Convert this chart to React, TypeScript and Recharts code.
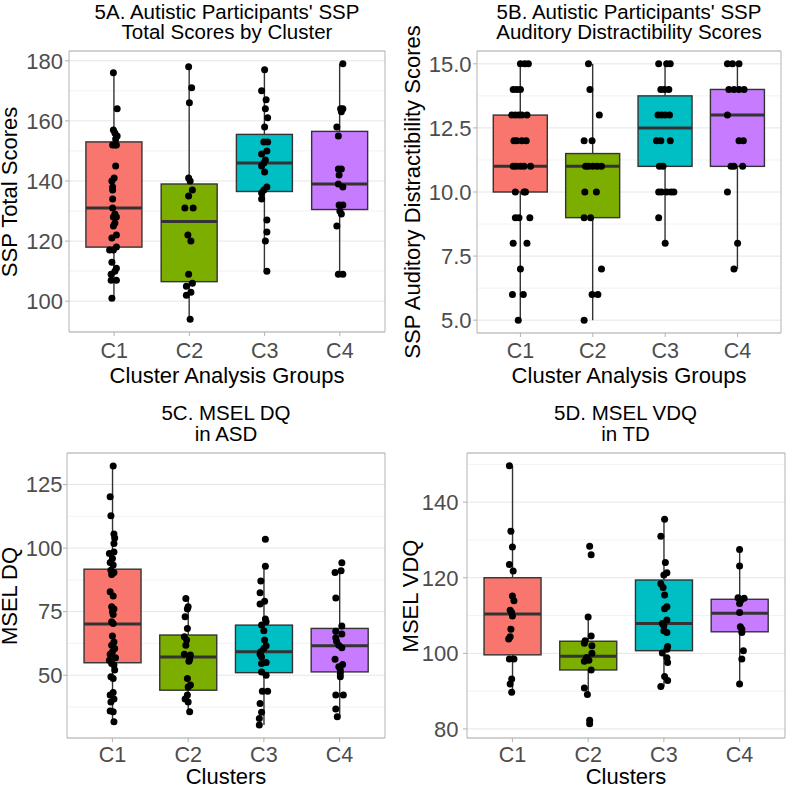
import React from 'react';
import { ComposedChart, Bar, Scatter, XAxis, YAxis, CartesianGrid, ReferenceArea } from 'recharts';

const FONT = '"Liberation Sans", Arial, Helvetica, sans-serif';
const clusters = ['C1', 'C2', 'C3', 'C4'];
const fills = ['#F8766D', '#7CAE00', '#00BFC4', '#C77CFF'];

// ---------- 5A: SSP Total Scores ----------
const sspTotalValues = [
  [176, 164, 157, 156, 155, 154, 152, 152, 152, 145, 141, 140, 138, 137, 134, 131, 129, 128, 128, 126, 125, 122, 121, 118, 117, 117, 113, 111, 110, 109, 107, 107, 101],
  [178, 171, 166, 141, 140, 137, 135, 131, 131, 122, 120, 109, 106, 105, 103, 102, 94],
  [177, 170, 167, 164, 161, 158, 153, 153, 150, 149, 147, 146, 145, 143, 138, 137, 136, 134, 127, 123, 120, 110],
  [179, 164, 164, 163, 158, 155, 144, 144, 142, 139, 138, 132, 132, 130, 129, 125, 109, 109],
];
const sspTotalJitter = [
  [-0.01, 0.04, -0.01, 0.01, 0.04, 0.02, -0.02, 0.01, 0.03, 0.02, 0, -0.03, -0.02, -0.02, -0.02, -0.02, 0.01, 0.03, -0.01, 0.01, -0.01, 0.03, -0.03, 0.03, -0.06, -0.01, -0.03, 0.03, 0.01, -0.04, -0.04, 0.03, -0.03],
  [-0.01, 0.03, 0, -0.01, 0.01, 0.04, -0.01, -0.06, 0.05, -0.02, 0.02, -0.01, 0.04, -0.04, 0.02, -0.04, 0.01],
  [0, -0.04, 0.02, 0.01, 0.04, 0, -0.01, 0.04, 0.03, -0.04, 0.01, -0.01, -0.04, 0, 0.03, -0.01, -0.04, -0.04, 0.03, 0.03, 0.01, 0.03],
  [0.04, 0.01, 0.04, 0.02, -0.04, -0.02, -0.02, 0.02, -0.01, -0.02, 0.04, -0.01, 0.04, 0, 0.02, -0.04, -0.02, 0.04],
];
// [lower whisker, Q1, median, Q3, upper whisker]
const sspTotalBoxes = [
  [101, 118, 131, 153, 176],
  [94, 106.5, 126.5, 139, 178],
  [110, 136.5, 146, 155.5, 177],
  [109, 130.5, 139, 156.5, 179],
];
const sspTotalTicks = [100, 120, 140, 160, 180];
const sspTotalMinor = [90, 110, 130, 150, 170];
const sspTotalDomain = [89.75, 183.25];

// ---------- 5B: SSP Auditory Distractibility ----------
const sspAudValues = [
  [15, 15, 15, 14, 14, 14, 13, 13, 13, 13, 13, 12, 12, 12, 12, 11, 11, 11, 11, 11, 10, 10, 10, 9, 9, 9, 8, 8, 7, 6, 6, 5],
  [15, 14, 13, 12, 12, 11, 11, 11, 11, 11, 10, 10, 9, 9, 7, 6, 6, 5],
  [15, 15, 15, 14, 14, 14, 13, 13, 13, 13, 12, 12, 12, 11, 11, 10, 10, 10, 10, 10, 9, 8],
  [15, 15, 15, 14, 14, 14, 14, 13, 12, 12, 11, 11, 11, 10, 8, 7],
];
const sspAudJitter = [
  [0, 0.06, 0.11, -0.1, -0.05, 0, -0.12, -0.07, -0.02, 0.02, 0.09, -0.09, -0.05, 0.02, 0.08, -0.1, -0.06, 0, 0.05, 0.14, -0.07, 0.05, 0.07, -0.07, -0.02, 0.13, -0.1, 0.09, 0, -0.11, 0.04, -0.03],
  [-0.06, -0.04, 0.09, -0.12, -0.01, -0.1, -0.06, 0, 0.06, 0.12, -0.11, 0.05, -0.12, -0.03, 0.12, -0.01, 0.07, -0.12],
  [-0.09, 0.02, 0.07, -0.06, -0.01, 0.05, -0.1, -0.05, 0, 0.06, -0.12, -0.06, 0.07, -0.08, -0.03, -0.09, -0.05, 0.02, 0.08, 0.12, -0.09, 0],
  [-0.14, -0.07, 0.02, -0.12, -0.05, 0.02, 0.09, -0.14, 0.02, 0.08, -0.09, -0.05, 0.07, -0.14, 0, -0.05],
];
const sspAudBoxes = [
  [5, 10, 11, 13, 15],
  [5, 9, 11, 11.5, 15],
  [8, 11, 12.5, 13.75, 15],
  [7, 11, 13, 14, 15],
];
const sspAudTicks = [5, 7.5, 10, 12.5, 15];
const sspAudMinor = [6.25, 8.75, 11.25, 13.75];
const sspAudDomain = [4.5, 15.5];

// ---------- 5C: MSEL DQ in ASD ----------
const dqValues = [
  [132.3, 120.2, 112.7, 105.5, 104, 101.8, 98.5, 97.9, 95.9, 94.3, 93.3, 91.3, 90.4, 89.6, 82.8, 81.2, 76.9, 76, 75, 73.9, 71, 70.3, 65.4, 63.1, 61.8, 60.5, 59.2, 58.2, 56.9, 55.9, 54.6, 54, 52, 49.4, 48.7, 43.2, 42.2, 40.6, 39.5, 35.9, 35.6, 31.7],
  [80.2, 76.9, 76, 73, 68.4, 65.1, 63.8, 61.8, 58.2, 57.9, 56.3, 55.5, 48.7, 46.1, 45.4, 42.2, 40.6, 39.5, 35.6],
  [103.5, 92.9, 87.1, 82.4, 79.1, 78, 72.1, 71, 69.7, 67.5, 63.8, 61.6, 60.5, 59.2, 58.2, 57.2, 55, 54.6, 51.3, 50, 43.7, 43.7, 38.9, 35.4, 33, 30.4],
  [94.2, 91.1, 90.4, 80.4, 69.4, 67.3, 66.2, 64.7, 63.4, 61.8, 60.8, 56.3, 54.2, 53.3, 52, 50.7, 49.4, 42.2, 42.2, 36.7, 33.7],
];
const dqJitter = [
  [0.01, -0.03, -0.02, 0.02, 0.03, 0.02, 0.02, -0.04, 0, -0.03, 0.01, -0.02, 0.02, -0.01, -0.03, 0.01, -0.01, 0.02, 0, 0.01, -0.01, 0.01, 0, 0.02, -0.01, 0.03, 0, -0.03, 0.04, -0.04, -0.01, 0.02, 0.03, -0.02, 0.01, 0.01, -0.03, 0.02, -0.02, -0.03, 0.01, 0.02],
  [-0.03, 0, -0.01, -0.04, -0.01, -0.05, -0.02, -0.03, -0.05, 0.03, 0.02, 0.01, -0.01, 0.03, 0, -0.01, -0.04, 0, 0.02],
  [0.02, 0.02, -0.04, -0.05, 0.01, -0.05, 0.02, 0.03, -0.03, 0, 0.01, 0.03, 0, -0.04, -0.05, -0.03, 0.03, -0.03, -0.03, 0.03, -0.02, 0.05, -0.05, -0.03, -0.06, -0.06],
  [0.03, 0.02, -0.06, -0.05, 0.03, -0.05, 0.03, -0.05, -0.04, -0.01, 0.03, -0.06, 0.04, -0.01, 0.01, 0.01, 0.01, -0.05, 0.05, -0.05, -0.03],
];
const dqBoxes = [
  [31.7, 54.9, 70.1, 91.7, 132.3],
  [35.6, 44.1, 57.2, 65.8, 80.2],
  [30.4, 51, 59.2, 69.7, 92.9],
  [33.7, 51.3, 61.6, 68.4, 90.4],
];
const dqTicks = [50, 75, 100, 125];
const dqMinor = [37.5, 62.5, 87.5, 112.5];
const dqDomain = [25.3, 137.4];

// ---------- 5D: MSEL VDQ in TD ----------
const vdqValues = [
  [149.6, 132.3, 128.1, 123.5, 121.8, 115.2, 113.9, 111.4, 110.8, 109.9, 106.4, 104.4, 103.8, 98.5, 98.5, 93.2, 91.9, 89.7],
  [128.3, 126.1, 109.6, 104.6, 103.3, 102.7, 102, 100, 98.9, 98.2, 97.9, 95.6, 90.8, 89.1, 82.3, 81.4],
  [135.5, 131, 124, 121.3, 120.7, 118.4, 117.4, 115.4, 112.3, 111.8, 108.8, 107.9, 107.3, 106, 105.5, 101.8, 101.1, 100.1, 98.8, 97.6, 93.9, 92.8, 91.2],
  [127.5, 123.1, 114.7, 114.6, 114.1, 113.2, 110.8, 107, 106.4, 105.5, 100.7, 98.5, 91.9],
];
const vdqJitter = [
  [-0.04, -0.02, 0, -0.04, 0.01, 0, 0.02, -0.03, -0.01, 0, -0.02, -0.03, -0.05, -0.04, 0.02, -0.01, -0.03, -0.01],
  [0.02, 0.04, 0, 0.04, -0.04, -0.05, 0.05, 0.05, -0.02, 0.01, -0.05, 0.04, -0.05, -0.01, 0.02, 0.02],
  [0.01, -0.04, 0.02, 0.04, 0, -0.04, -0.01, 0.01, 0.04, 0.01, 0.04, -0.02, 0, 0, 0.04, 0.05, 0.04, -0.02, 0.04, 0.05, 0.01, 0.05, -0.04],
  [0, 0, -0.02, 0.06, 0.02, 0, 0, 0.01, 0.03, 0.03, 0.05, 0.03, 0],
];
const vdqBoxes = [
  [89.7, 99.6, 110.4, 120, 149.6],
  [89.1, 95.6, 99.2, 103.2, 109.6],
  [91.2, 100.7, 107.9, 119.4, 135.5],
  [91.9, 105.7, 110.6, 114.3, 127.5],
];
const vdqTicks = [80, 100, 120, 140];
const vdqMinor = [90, 110, 130, 150];
const vdqDomain = [77.6, 153];

const panels = [
  {
    id: 'A', left: 0, top: 0, width: 393, height: 393,
    margin: { top: 51, right: 8, bottom: 31, left: 0 }, yWidth: 69,
    yTickMargin: 2, xTickMargin: 6.4,
    values: sspTotalValues, jitter: sspTotalJitter, boxes: sspTotalBoxes,
    ticks: sspTotalTicks, minor: sspTotalMinor, domain: sspTotalDomain,
    fmt: (v: number) => String(v),
    title: ["5A. Autistic Participants' SSP", 'Total Scores by Cluster'], titleTop: 1.5, titleX: 227,
    yTitle: 'SSP Total Scores', yTitleX: 9.5, yTitleY: 191.5,
    xTitle: 'Cluster Analysis Groups', xTitleY: 376,
  },
  {
    id: 'B', left: 393, top: 0, width: 394, height: 393,
    margin: { top: 51, right: 6, bottom: 30, left: 0 }, yWidth: 84,
    yTickMargin: 1.5, xTickMargin: 5.4,
    values: sspAudValues, jitter: sspAudJitter, boxes: sspAudBoxes,
    ticks: sspAudTicks, minor: sspAudMinor, domain: sspAudDomain,
    fmt: (v: number) => v.toFixed(1),
    title: ["5B. Autistic Participants' SSP", 'Auditory Distractibility Scores'], titleTop: 1.5, titleX: 629,
    yTitle: 'SSP Auditory Distractibility Scores', yTitleX: 413, yTitleY: 192,
    xTitle: 'Cluster Analysis Groups', xTitleY: 376,
  },
  {
    id: 'C', left: 0, top: 393, width: 393, height: 393,
    margin: { top: 60, right: 8, bottom: 18, left: 0 }, yWidth: 67,
    yTickMargin: 0.5, xTickMargin: 4.4,
    values: dqValues, jitter: dqJitter, boxes: dqBoxes,
    ticks: dqTicks, minor: dqMinor, domain: dqDomain,
    fmt: (v: number) => String(v),
    title: ['5C. MSEL DQ', 'in ASD'], titleTop: 403, titleX: 226,
    yTitle: 'MSEL DQ', yTitleX: 10, yTitleY: 595.5,
    xTitle: 'Clusters', xTitleY: 777,
  },
  {
    id: 'D', left: 393, top: 393, width: 394, height: 393,
    margin: { top: 60, right: 2, bottom: 18, left: 0 }, yWidth: 74,
    yTickMargin: 4.5, xTickMargin: 4.4,
    values: vdqValues, jitter: vdqJitter, boxes: vdqBoxes,
    ticks: vdqTicks, minor: vdqMinor, domain: vdqDomain,
    fmt: (v: number) => String(v),
    title: ['5D. MSEL VDQ', 'in TD'], titleTop: 403, titleX: 625.5,
    yTitle: 'MSEL VDQ', yTitleX: 410.5, yTitleY: 595.5,
    xTitle: 'Clusters', xTitleY: 777,
  },
];

const BoxShape = (props: any) => {
  const { x, y, width, height, payload } = props;
  if (!payload || x == null || y == null) return null;
  const [q1, q3] = payload.box;
  const top = Math.min(y, y + height);
  const bottom = Math.max(y, y + height);
  const px = (v: number) => bottom + ((top - bottom) * (v - q1)) / (q3 - q1);
  const cx = x + width / 2;
  const stroke = '#333333';
  return (
    <g>
      <line x1={cx} x2={cx} y1={px(payload.hi)} y2={top} stroke={stroke} strokeWidth={1.4} />
      <line x1={cx} x2={cx} y1={bottom} y2={px(payload.lo)} stroke={stroke} strokeWidth={1.4} />
      <rect x={x} y={top} width={width} height={bottom - top} fill={payload.color} stroke={stroke} strokeWidth={1.4} />
      <line x1={x} x2={x + width} y1={px(payload.med)} y2={px(payload.med)} stroke={stroke} strokeWidth={3} />
    </g>
  );
};

const DotShape = (props: any) => {
  if (props.cx == null || props.cy == null) return null;
  return <circle cx={props.cx} cy={props.cy} r={3.5} fill="#000000" />;
};

function Panel({ cfg }: { cfg: any }) {
  const plotW = cfg.width - cfg.yWidth - cfg.margin.right - cfg.margin.left;
  const pad = plotW / 42;
  const boxData = clusters.map((name, i) => ({
    name,
    box: [cfg.boxes[i][1], cfg.boxes[i][3]],
    lo: cfg.boxes[i][0],
    med: cfg.boxes[i][2],
    hi: cfg.boxes[i][4],
    color: fills[i],
  }));
  const points = cfg.values.flatMap((vals: number[], i: number) =>
    vals.map((v: number, j: number) => ({ x: i + 1 + (cfg.jitter[i][j] ?? 0), y: v }))
  );
  const xTickStyle = { fill: '#4D4D4D', fontSize: 21.5, fontFamily: FONT };
  const yTickStyle = { fill: '#4D4D4D', fontSize: 22, fontFamily: FONT };
  return (
    <div style={{ position: 'absolute', left: cfg.left, top: cfg.top, width: cfg.width, height: cfg.height }}>
      <ComposedChart width={cfg.width} height={cfg.height} data={boxData} margin={cfg.margin} barCategoryGap="12.5%">
        <XAxis xAxisId="num" type="number" dataKey="x" domain={[0.4, 4.6]} allowDataOverflow hide />
        <XAxis
          xAxisId="cat" type="category" dataKey="name" padding={{ left: pad, right: pad }} height={30}
          tickSize={4} tickMargin={cfg.xTickMargin} tick={xTickStyle} tickLine={{ stroke: '#B3B3B3' }}
          axisLine={false} interval={0}
        />
        <YAxis
          yAxisId="main" type="number" domain={cfg.domain} ticks={cfg.ticks} allowDataOverflow width={cfg.yWidth}
          tickSize={4} tickMargin={cfg.yTickMargin} tick={yTickStyle} tickLine={{ stroke: '#B3B3B3' }}
          axisLine={false} interval={0} tickFormatter={cfg.fmt}
        />
        <YAxis yAxisId="minor" type="number" domain={cfg.domain} ticks={cfg.minor} allowDataOverflow hide interval={0} />
        <CartesianGrid xAxisId="cat" yAxisId="minor" vertical={false} stroke="#F2F2F2" strokeWidth={1} />
        <CartesianGrid xAxisId="cat" yAxisId="main" vertical={false} stroke="#E6E6E6" strokeWidth={1} />
        <Bar xAxisId="cat" yAxisId="main" dataKey="box" shape={BoxShape} isAnimationActive={false} />
        <Scatter xAxisId="num" yAxisId="main" data={points} dataKey="y" shape={DotShape} isAnimationActive={false} />
        <ReferenceArea
          xAxisId="num" yAxisId="main" x1={0.4} x2={4.6} y1={cfg.domain[0]} y2={cfg.domain[1]}
          fill="none" fillOpacity={0} stroke="#B3B3B3" strokeWidth={1} ifOverflow="visible"
        />
      </ComposedChart>
    </div>
  );
}

function Texts({ cfg }: { cfg: any }) {
  const plotLeft = cfg.left + cfg.yWidth;
  const plotRight = cfg.left + cfg.width - cfg.margin.right;
  const cx = (plotLeft + plotRight) / 2;
  return (
    <>
      {cfg.title.map((l: string, k: number) => (
        <div
          key={l}
          style={{
            position: 'absolute', left: cfg.titleX - 200, top: cfg.titleTop + 2 + k * 20.5, width: 400, textAlign: 'center',
            fontSize: 20.5, lineHeight: '16.5px', color: '#000', whiteSpace: 'nowrap',
          }}
        >
          {l}
        </div>
      ))}
      <div
        style={{
          position: 'absolute', left: cfg.yTitleX, top: cfg.yTitleY, transform: 'translate(-50%, -50%) rotate(-90deg)',
          fontSize: 22, lineHeight: '16px', color: '#000', whiteSpace: 'nowrap',
        }}
      >
        {cfg.yTitle}
      </div>
      <div
        style={{
          position: 'absolute', left: cx, top: cfg.xTitleY, transform: 'translate(-50%, -50%)',
          fontSize: 22, lineHeight: '16px', color: '#000', whiteSpace: 'nowrap',
        }}
      >
        {cfg.xTitle}
      </div>
    </>
  );
}

export default function App() {
  return (
    <div style={{ position: 'absolute', left: 0, top: 0, width: 787, height: 786, background: '#ffffff', fontFamily: FONT, overflow: 'hidden' }}>
      {panels.map((p) => (
        <Panel key={p.id} cfg={p} />
      ))}
      {panels.map((p) => (
        <Texts key={'t' + p.id} cfg={p} />
      ))}
    </div>
  );
}
